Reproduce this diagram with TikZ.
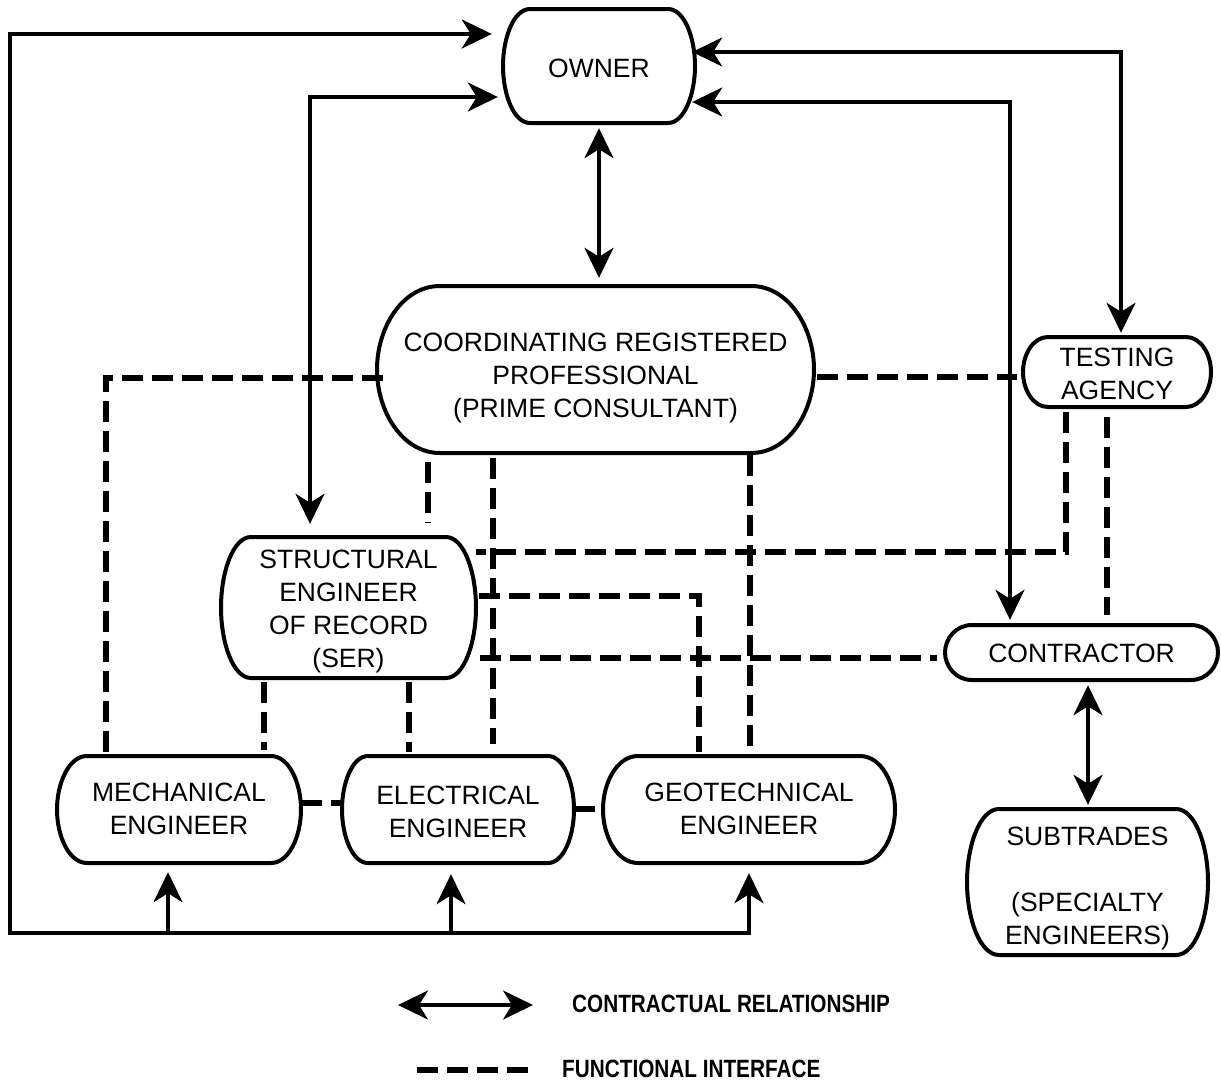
\documentclass[tikz,border=0pt]{standalone}
\usepackage{fontspec}
\setmainfont{Liberation Sans}
\newfontfamily\legendfont[FakeStretch=0.83]{Liberation Sans}
\usetikzlibrary{arrows.meta,calc}
\tikzset{
  boxline/.style={line width=4pt, line join=round},
  boxtext/.style={inner sep=0pt, align=center, font=\fontsize{26.5}{33}\selectfont},
  contract/.style={line width=3.5pt},
  func/.style={line width=5.5pt, dash pattern=on 21pt off 9pt},
  bigtip/.tip={Stealth[length=30pt,width=29pt,inset=9pt]},
  legendtext/.style={inner sep=0pt, anchor=west, font=\legendfont\bfseries\fontsize{25}{25}\selectfont},
}
% #1 name, #2 x left, #3 y top, #4 x right, #5 y bottom, #6 bulge, #7 text y offset, #8 text
\newcommand\barrelbox[8]{%
  \node[inner sep=0pt, minimum width={(#4-#2)*1pt}, minimum height={(#5-#3)*1pt}]
    (#1) at ({(#2+#4)/2},{(#3+#5)/2}) {};
  \node[boxtext] (#1-text) at ({(#2+#4)/2},{(#3+#5)/2+#7}) {#8};
  \draw[boxline] ({#2+#6},#3) -- ({#4-#6},#3)
    .. controls ({#4-0.4*#6},#3) and (#4,{#3+0.25*(#5-#3)}) .. (#4,{(#3+#5)/2})
    .. controls (#4,{#5-0.25*(#5-#3)}) and ({#4-0.4*#6},#5) .. ({#4-#6},#5)
    -- ({#2+#6},#5)
    .. controls ({#2+0.4*#6},#5) and (#2,{#5-0.25*(#5-#3)}) .. (#2,{(#3+#5)/2})
    .. controls (#2,{#3+0.25*(#5-#3)}) and ({#2+0.4*#6},#3) .. cycle;
}
\begin{document}
\begin{tikzpicture}[x=1pt,y=-1pt]
\useasboundingbox (0,0) rectangle (1221,1087);

% ---------- boxes ----------
\barrelbox{owner}{503}{9}{695}{123}{27}{2}{OWNER}
\barrelbox{crp}{377}{286}{814}{453}{63}{8}{COORDINATING REGISTERED\\PROFESSIONAL\\(PRIME CONSULTANT)}
\barrelbox{ta}{1023}{337}{1211}{407}{25}{1.5}{TESTING\\AGENCY}
\barrelbox{ser}{221}{537}{476}{678}{30}{4}{STRUCTURAL\\ENGINEER\\OF RECORD\\(SER)}
\barrelbox{mech}{57}{756}{301}{863}{30}{-1}{MECHANICAL\\ENGINEER}
\barrelbox{elec}{342}{756}{574}{863}{26}{2}{ELECTRICAL\\ENGINEER}
\barrelbox{geo}{603}{756}{895}{863}{35}{-1}{GEOTECHNICAL\\ENGINEER}
\barrelbox{ctr}{945}{625}{1218}{680}{27}{1}{CONTRACTOR}
\barrelbox{sub}{967}{809}{1208}{955}{32}{6}{SUBTRADES\\[33pt](SPECIALTY\\ENGINEERS)}

\coordinate (busL) at (10,933);

% ---------- contractual relationships ----------
\draw[contract, {bigtip}-{bigtip}, shorten <=5pt, shorten >=8pt] (owner.south -| 599,0) -- (crp.north -| 599,0);
\draw[contract, {bigtip}-{bigtip}, shorten <=11pt, shorten >=10pt]
  (owner.west |- 0,34) -| (busL) -| (geo.south);
\draw[contract, -{bigtip}, shorten >=9pt] (busL -| 168,0) -- (mech.south -| 168,0);
\draw[contract, -{bigtip}, shorten >=11pt] (busL -| 451,0) -- (elec.south -| 451,0);
\draw[contract, {bigtip}-{bigtip}, shorten <=5pt, shorten >=13pt]
  (owner.west |- 0,97) -| (ser.north -| 310,0);
\draw[contract, {bigtip}-{bigtip}, shorten <=-3pt, shorten >=4pt]
  (owner.east |- 0,52) -| (ta.north -| 1121,0);
\draw[contract, {bigtip}-{bigtip}, shorten <=-3pt, shorten >=5pt]
  (owner.east |- 0,102) -| (ctr.north -| 1010,0);
\draw[contract, {bigtip}-{bigtip}, shorten <=5pt, shorten >=4pt]
  (ctr.south -| 1088,0) -- (sub.north -| 1088,0);

% ---------- functional interfaces ----------
\draw[func, shorten <=-6pt, shorten >=2pt] (crp.west |- 0,378) -| (mech.north -| 106,0);
\draw[func, shorten <=3pt, shorten >=6pt] (crp.east |- 0,377) -- (ta.west |- 0,377);
\draw[func, shorten <=9pt, shorten >=14pt] (crp.south -| 428,0) -- (ser.north -| 428,0);
\draw[func, shorten <=5pt, shorten >=12pt] (crp.south -| 493,0) -- (elec.north -| 493,0);
\draw[func, shorten <=2pt, shorten >=4pt] (crp.south -| 750,0) -- (geo.north -| 750,0);
\draw[func, shorten <=5pt] (ta.south -| 1066,0) |- (ser.east |- 0,552);
\draw[func, shorten <=10pt, shorten >=10pt] (ta.south -| 1107,0) -- (ctr.north -| 1107,0);
\draw[func, shorten <=3pt, shorten >=4pt] (ser.east |- 0,596) -| (geo.north -| 699,0);
\draw[func, shorten <=4pt, shorten >=8pt] (ser.east |- 0,658) -- (ctr.west |- 0,658);
\draw[func, shorten <=4pt, shorten >=6pt] (ser.south -| 264,0) -- (mech.north -| 264,0);
\draw[func, shorten <=4pt, shorten >=4pt] (ser.south -| 409,0) -- (elec.north -| 409,0);
\draw[func] (mech.east |- 0,803) -- (elec.west |- 0,803);
\draw[func] (elec.east |- 0,809) -- (geo.west |- 0,809);

% ---------- legend ----------
\coordinate (legA) at (398,1005);
\coordinate (legB) at (533,1005);
\coordinate (legC) at (417,1070);
\coordinate (legD) at (528,1070);
\draw[contract, {bigtip}-{bigtip}] (legA) -- (legB);
\node[legendtext] (legT1) at (572,1004) {CONTRACTUAL RELATIONSHIP};
\draw[func] (legC) -- (legD);
\node[legendtext] (legT2) at (562,1069) {FUNCTIONAL INTERFACE};
\end{tikzpicture}
\end{document}
